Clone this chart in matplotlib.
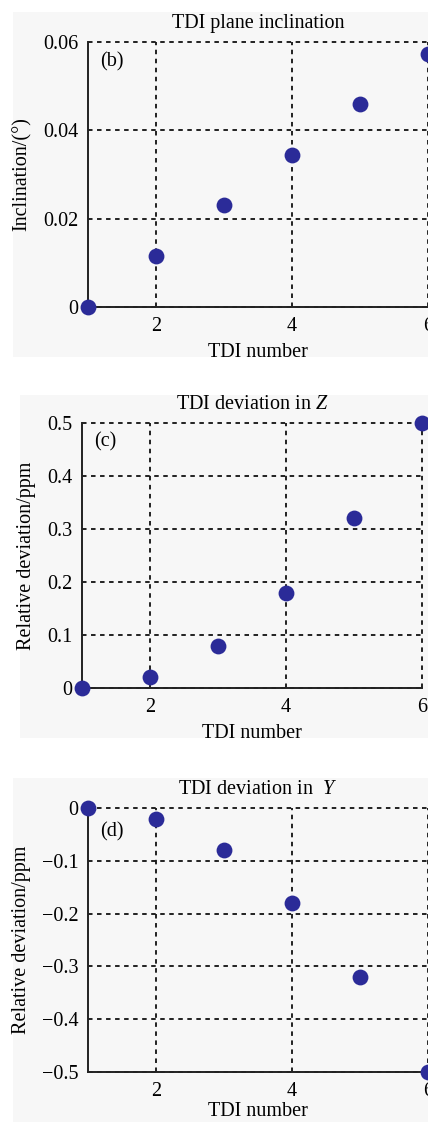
import numpy as np
import matplotlib
matplotlib.use('Agg')
import matplotlib.pyplot as plt
from matplotlib.patches import Rectangle

# data
tdi = [1, 2, 3, 4, 5, 6]
inclination = [0.0, 0.0115, 0.0232, 0.0345, 0.046, 0.0573]
dev_z = [0.0, 0.02, 0.08, 0.18, 0.32, 0.5]
dev_y = [0.0, -0.02, -0.08, -0.18, -0.32, -0.5]

W, H = 428, 1122
plt.rcParams['font.family'] = ['Liberation Serif', 'DejaVu Serif']
plt.rcParams['mathtext.fontset'] = 'custom'
plt.rcParams['mathtext.it'] = 'Liberation Serif:italic'
plt.rcParams['mathtext.rm'] = 'Liberation Serif'

fig = plt.figure(figsize=(W / 100, H / 100), dpi=100, facecolor='white')

bg = '#f7f7f7'
dot = '#2b2b98'
fs = 14.5


def px_rect(l, t, r, b):
    return [l / W, 1 - b / H, (r - l) / W, (b - t) / H]


# grey panel backgrounds
for l, t, r, b in [(13, 12, 428, 357), (20, 395, 428, 738), (13, 778, 428, 1122)]:
    fig.patches.append(Rectangle((l / W, 1 - b / H), (r - l) / W, (b - t) / H,
                                 transform=fig.transFigure, facecolor=bg,
                                 edgecolor='none', zorder=-10))

panels = [
    dict(rect=(88, 42, 428, 307), y=inclination, ylim=(0, 0.06),
         yticks=[0, 0.02, 0.04, 0.06], ylabels=['0', '0.02', '0.04', '0.06'],
         title='TDI plane inclination', ylabel='Inclination/(°)', tag='(b)',
         xpad=5, tagy=0.925),
    dict(rect=(82, 423, 422, 688), y=dev_z, ylim=(0, 0.5),
         yticks=[0, 0.1, 0.2, 0.3, 0.4, 0.5],
         ylabels=['0', '0.1', '0.2', '0.3', '0.4', '0.5'],
         title='TDI deviation in $Z$', ylabel='Relative deviation/ppm', tag='(c)',
         xpad=5, tagy=0.93),
    dict(rect=(88, 808, 428, 1072), y=dev_y, ylim=(-0.5, 0),
         yticks=[-0.5, -0.4, -0.3, -0.2, -0.1, 0],
         ylabels=['\u22120.5', '\u22120.4', '\u22120.3', '\u22120.2', '\u22120.1', '0'],
         title='TDI deviation in  $Y$', ylabel='Relative deviation/ppm', tag='(d)',
         xpad=1, tagy=0.91),
]

for p in panels:
    ax = fig.add_axes(px_rect(*p['rect']))
    ax.set_facecolor(bg)
    ax.scatter(tdi, p['y'], s=130, color=dot, zorder=5, clip_on=False, linewidths=0)
    ax.set_xlim(1, 6)
    ax.set_ylim(*p['ylim'])
    ax.set_xticks([2, 4, 6])
    ax.set_yticks(p['yticks'])
    ax.set_yticklabels(p['ylabels'])
    ax.tick_params(length=0, labelsize=fs, pad=7)
    ax.grid(True, color='#111111', linestyle=(0, (2.5, 2.5)), linewidth=1.3)
    for gl in ax.get_xgridlines() + ax.get_ygridlines():
        gl.set_clip_on(False)
    ax.spines['top'].set_visible(False)
    ax.spines['right'].set_visible(False)
    for s in ['left', 'bottom']:
        ax.spines[s].set_linewidth(1.4)
        ax.spines[s].set_color('#222222')
        ax.spines[s].set_zorder(4)
    ax.set_title(p['title'], fontsize=fs, pad=10)
    ax.set_xlabel('TDI number', fontsize=fs, labelpad=p['xpad'])
    ax.set_ylabel(p['ylabel'], fontsize=fs, labelpad=8)
    ax.text(0.035, p['tagy'], p['tag'], transform=ax.transAxes, fontsize=fs,
            va='center', ha='left')

fig.savefig('out.png', dpi=100, facecolor='white')
